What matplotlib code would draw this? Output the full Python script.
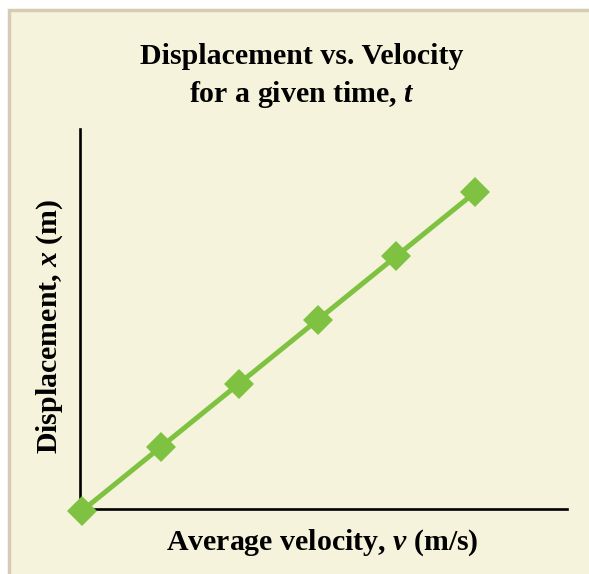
import matplotlib
matplotlib.use("Agg")
import matplotlib.pyplot as plt
from matplotlib.patches import Rectangle

# values (arbitrary units, linear relation)
velocity = [0, 1, 2, 3, 4, 5]
displacement = [0, 1, 2, 3, 4, 5]

title_lines = ["Displacement vs. Velocity", "for a given time, $t$"]
xlabel_text = "Average velocity, $v$ (m/s)"
ylabel_text = "Displacement, $x$ (m)"

cream = "#f6f3dd"
tan = "#d6ccb4"
green = "#7fc241"

plt.rcParams['font.family'] = ['Liberation Serif', 'DejaVu Serif']
plt.rcParams['mathtext.fontset'] = 'custom'
plt.rcParams['mathtext.it'] = 'Liberation Serif:italic:bold'
plt.rcParams['mathtext.rm'] = 'Liberation Serif:bold'

W, H = 589, 574
fig = plt.figure(figsize=(W / 100, H / 100), dpi=100, facecolor="white")

# cream panel with tan border on the left and top
panel = Rectangle((9 / W, -0.05), 1.2, (H - 10) / H + 0.05, transform=fig.transFigure,
                  facecolor=cream, edgecolor=tan, linewidth=2.5, zorder=0)
fig.patches.append(panel)

ax = fig.add_axes([80 / W, (H - 509) / H, 487 / W, 380 / H])
ax.set_zorder(2)
ax.patch.set_alpha(0)

ax.plot(velocity, displacement, color=green, lw=3.6, marker="D", ms=15,
        markeredgewidth=0, clip_on=False, zorder=3)

ax.set_xlim(-0.025, 6.17)
ax.set_ylim(0.03, 5.995)

for side in ["top", "right"]:
    ax.spines[side].set_visible(False)
for side in ["left", "bottom"]:
    ax.spines[side].set_linewidth(1.9)
    ax.spines[side].set_color("black")
ax.set_xticks([])
ax.set_yticks([])

fs = 21.5
fig.text(302 / W, 1 - 57 / H, title_lines[0], ha="center", va="center",
         fontsize=fs, fontweight="bold", zorder=3)
fig.text(302 / W, 1 - 95 / H, title_lines[1], ha="center", va="center",
         fontsize=fs, fontweight="bold", zorder=3)
fig.text(322 / W, 1 - 543 / H, xlabel_text, ha="center", va="center",
         fontsize=fs, fontweight="bold", zorder=3)
fig.text(50 / W, 1 - 326 / H, ylabel_text, ha="center", va="center",
         fontsize=fs, fontweight="bold", rotation=90, zorder=3)

fig.savefig("out.png", dpi=100, facecolor="white")
